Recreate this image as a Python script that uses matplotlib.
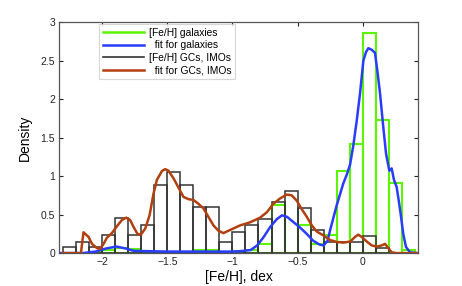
import numpy as np
import matplotlib
matplotlib.use("Agg")
import matplotlib.pyplot as plt
from matplotlib.lines import Line2D

plt.rcParams['font.family'] = ['Liberation Sans', 'DejaVu Sans']

# ---- data ----
bin_width = 0.1
gc_bin_left = [-2.3, -2.2, -2.1, -2.0, -1.9, -1.8, -1.7, -1.6, -1.5, -1.4, -1.3, -1.2, -1.1,
               -1.0, -0.9, -0.8, -0.7, -0.6, -0.5, -0.4, -0.3, -0.2, -0.1, 0.0, 0.1]
gc_density = [0.08, 0.15, 0.08, 0.23, 0.45, 0.23, 0.37, 0.89, 1.05, 0.89, 0.60, 0.60, 0.15,
              0.28, 0.37, 0.44, 0.67, 0.81, 0.59, 0.30, 0.15, 0.15, 0.15, 0.22, 0.07]

gal_bin_left = [-2.3, -2.2, -2.1, -2.0, -1.9, -1.8, -1.7, -1.6, -1.5, -1.4, -1.3, -1.2, -1.1,
                -1.0, -0.9, -0.8, -0.7, -0.6, -0.5, -0.4, -0.3, -0.2, -0.1, 0.0, 0.1, 0.2, 0.3]
gal_density = [0.0, 0.0, 0.01, 0.04, 0.06, 0.05, 0.03, 0.02, 0.02, 0.02, 0.04, 0.04, 0.02,
               0.03, 0.04, 0.12, 0.63, 0.0, 0.36, 0.12, 0.24, 1.06, 1.41, 2.86, 1.73, 0.91, 0.04]

gal_fit_x = [-2.32, -2.15, -2.05, -1.97, -1.89, -1.82, -1.76, -1.65, -1.5, -1.3, -1.1, -1.0,
             -0.94, -0.86, -0.81, -0.76, -0.71, -0.66, -0.62, -0.58, -0.53, -0.48, -0.43,
             -0.38, -0.33, -0.30, -0.27, -0.25, -0.20, -0.15, -0.12, -0.097, -0.072, -0.046,
             -0.021, 0.005, 0.025, 0.043, 0.069, 0.094, 0.112, 0.133, 0.158, 0.179, 0.204,
             0.222, 0.24, 0.26, 0.273, 0.291, 0.311, 0.332, 0.363, 0.42]
gal_fit_y = [0.0, 0.0, 0.02, 0.06, 0.085, 0.06, 0.03, 0.025, 0.02, 0.02, 0.02, 0.02,
             0.025, 0.04, 0.10, 0.21, 0.34, 0.44, 0.49, 0.47, 0.40, 0.33, 0.25,
             0.16, 0.11, 0.10, 0.16, 0.30, 0.62, 0.90, 1.03, 1.15, 1.40, 1.72,
             2.07, 2.50, 2.61, 2.66, 2.64, 2.60, 2.37, 2.07, 1.63, 1.29, 1.07,
             1.10, 0.95, 0.86, 0.72, 0.51, 0.25, 0.08, 0.01, 0.0]

gc_fit_x = [-2.306, -2.163, -2.143, -2.104, -2.078, -2.040, -2.015, -1.989, -1.963, -1.925,
            -1.886, -1.848, -1.815, -1.785, -1.759, -1.729, -1.702, -1.669, -1.636, -1.606,
            -1.580, -1.541, -1.516, -1.491, -1.452, -1.414, -1.376, -1.337, -1.299, -1.261,
            -1.222, -1.184, -1.146, -1.107, -1.069, -1.031, -0.992, -0.941, -0.864, -0.788,
            -0.736, -0.686, -0.634, -0.583, -0.545, -0.506, -0.468, -0.429, -0.391, -0.353,
            -0.302, -0.251, -0.199, -0.149, -0.097, -0.059, -0.034, -0.008, 0.031, 0.069,
            0.107, 0.146, 0.171, 0.196, 0.222, 0.26, 0.42]
gc_fit_y = [0.0, 0.0, 0.27, 0.21, 0.12, 0.065, 0.055, 0.12, 0.20, 0.26,
            0.35, 0.43, 0.46, 0.43, 0.34, 0.25, 0.24, 0.32, 0.49, 0.77,
            0.95, 1.065, 1.09, 1.07, 0.97, 0.85, 0.73, 0.70, 0.69, 0.64,
            0.58, 0.47, 0.36, 0.29, 0.26, 0.29, 0.32, 0.36, 0.40, 0.46,
            0.53, 0.64, 0.71, 0.76, 0.75, 0.68, 0.57, 0.47, 0.36, 0.28,
            0.23, 0.17, 0.145, 0.136, 0.15, 0.21, 0.24, 0.21, 0.15, 0.10,
            0.084, 0.10, 0.12, 0.067, 0.01, 0.0, 0.0]

x_ticks = [-2, -1.5, -1, -0.5, 0]
x_ticklabels = ['\u22122', '\u22121.5', '\u22121', '\u22120.5', '0']
y_ticks = [0, 0.5, 1, 1.5, 2, 2.5, 3]
y_ticklabels = ['0', '0.5', '1', '1.5', '2', '2.5', '3']

# ---- styles ----
c_green = '#5cf500'
c_blue = '#2a3cff'
c_black = '#333333'
c_brown = '#b2400f'

fig = plt.figure(figsize=(4.62, 2.86), dpi=100)
ax = fig.add_axes([0.128, 0.115, 0.777, 0.808])

ax.bar(gal_bin_left, gal_density, width=bin_width, align='edge', fill=False,
       edgecolor=c_green, linewidth=1.5, zorder=2)
ax.bar(gc_bin_left, gc_density, width=bin_width, align='edge', fill=False,
       edgecolor=c_black, linewidth=1.1, zorder=3)
ax.plot(gal_fit_x, gal_fit_y, color=c_blue, linewidth=1.8, zorder=4)
ax.plot(gc_fit_x, gc_fit_y, color=c_brown, linewidth=1.8, zorder=5)

ax.set_xlim(-2.33, 0.425)
ax.set_ylim(0, 3)
ax.set_xticks(x_ticks)
ax.set_xticklabels(x_ticklabels)
ax.set_yticks(y_ticks)
ax.set_yticklabels(y_ticklabels)
ax.tick_params(direction='in', top=True, right=True, length=3, width=0.8,
               labelsize=7.5, colors='#222222', pad=3)
for s in ax.spines.values():
    s.set_color('#555555')
    s.set_linewidth(0.9)

ax.set_xlabel('[Fe/H], dex', fontsize=10, labelpad=2)
ax.set_ylabel('Density', fontsize=10, labelpad=6)

handles = [Line2D([], [], color=c_green, lw=1.8),
           Line2D([], [], color=c_blue, lw=1.8),
           Line2D([], [], color=c_black, lw=1.2),
           Line2D([], [], color=c_brown, lw=1.8)]
labels = ['[Fe/H] galaxies', '  fit for galaxies', '[Fe/H] GCs, IMOs', '  fit for GCs, IMOs']
leg = ax.legend(handles, labels, loc='upper left', bbox_to_anchor=(0.112, 0.99),
                fontsize=7.4, frameon=True, fancybox=False, edgecolor='#cccccc',
                labelspacing=0.25, handlelength=4.0, handletextpad=0.5,
                borderpad=0.35, borderaxespad=0.0)
leg.get_frame().set_linewidth(0.8)

fig.savefig('out.png', dpi=100)
